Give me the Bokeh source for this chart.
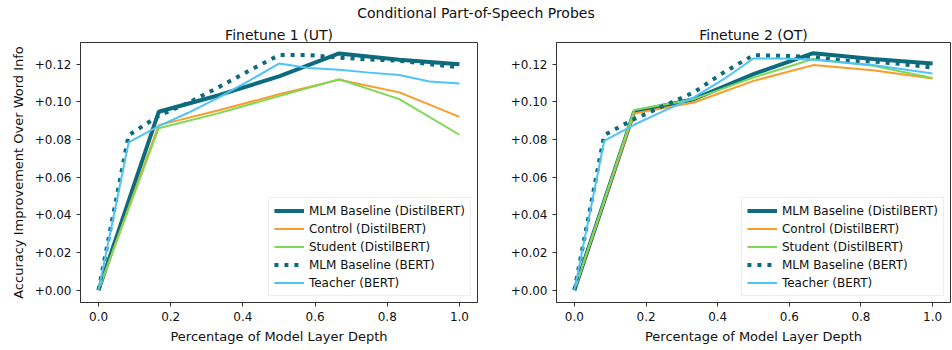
from bokeh.plotting import figure
from bokeh.layouts import row, column
from bokeh.models import Div, Range1d, FixedTicker, CustomJSTickFormatter, Legend, LegendItem
from bokeh.embed import file_html
from bokeh.resources import INLINE

# x positions (fraction of layer depth)
x_distil = [0, 1/6, 2/6, 3/6, 4/6, 5/6, 1.0]
x_bert = [i / 12 for i in range(13)]

# Finetune 1 (UT)
ut_mlm_distil = [0.0, 0.0947, 0.1035, 0.1135, 0.1257, 0.1223, 0.1200]
ut_control = [0.0, 0.0876, 0.0955, 0.1040, 0.1117, 0.1050, 0.0920]
ut_student = [0.0, 0.0860, 0.0940, 0.1030, 0.1120, 0.1014, 0.0825]
ut_mlm_bert = [0.0, 0.0823, 0.0925, 0.0996, 0.1078, 0.1165, 0.1248, 0.1248,
               0.1235, 0.1225, 0.1218, 0.1200, 0.1183]
ut_teacher = [0.0, 0.0784, 0.0871, 0.0943, 0.1023, 0.1111, 0.1203, 0.1180,
              0.1170, 0.1155, 0.1142, 0.1108, 0.1097]

# Finetune 2 (OT)
ot_mlm_distil = [0.0, 0.0947, 0.1014, 0.1147, 0.1258, 0.1227, 0.1204]
ot_control = [0.0, 0.0938, 0.0996, 0.1111, 0.1195, 0.1168, 0.1124]
ot_student = [0.0, 0.0956, 0.1014, 0.1129, 0.1227, 0.1191, 0.1126]
ot_mlm_bert = [0.0, 0.0823, 0.0908, 0.0979, 0.1050, 0.1156, 0.1248, 0.1244,
               0.1239, 0.1218, 0.1214, 0.1200, 0.1182]
ot_teacher = [0.0, 0.0793, 0.0878, 0.0952, 0.1023, 0.1120, 0.1230, 0.1230,
              0.1223, 0.1209, 0.1195, 0.1173, 0.1150]

series_names = ["MLM Baseline (DistilBERT)", "Control (DistilBERT)", "Student (DistilBERT)",
                "MLM Baseline (BERT)", "Teacher (BERT)"]
x_ticks = [0.0, 0.2, 0.4, 0.6, 0.8, 1.0]
y_ticks = [0.0, 0.02, 0.04, 0.06, 0.08, 0.10, 0.12]

FONT = "DejaVu Sans"
C_MLM = "#0e6b7e"
C_CTRL = "#fa9b2a"
C_STU = "#7ed957"
C_TEA = "#4fc3f7"


def make_panel(title, data, width, bl, br, ylabel):
    p = figure(width=width, height=326, output_backend="svg", toolbar_location=None,
               x_range=Range1d(-0.05, 1.05), y_range=Range1d(-0.0066, 0.1315),
               min_border_left=bl, min_border_right=br, min_border_top=0,
               min_border_bottom=48)
    p.title.text = title
    p.title.align = "center"
    p.title.text_font = FONT
    p.title.text_font_size = "14px"
    p.title.text_font_style = "normal"
    p.title.text_color = "#111111"
    p.title.standoff = 0
    p.title.offset = 0
    p.grid.visible = False
    p.outline_line_color = "#333333"
    p.outline_line_width = 1
    p.background_fill_color = "white"
    p.border_fill_color = "white"
    for ax in (p.xaxis[0], p.yaxis[0]):
        ax.axis_line_color = "#333333"
        ax.major_tick_in = 0
        ax.major_tick_out = 4
        ax.minor_tick_line_color = None
        ax.major_tick_line_color = "#333333"
        ax.major_label_text_font = FONT
        ax.major_label_text_font_size = "12px"
        ax.major_label_text_color = "#111111"
        ax.axis_label_text_font = FONT
        ax.axis_label_text_font_size = "13px"
        ax.axis_label_text_font_style = "normal"
        ax.axis_label_text_color = "#111111"
    p.xaxis.ticker = FixedTicker(ticks=x_ticks)
    p.yaxis.ticker = FixedTicker(ticks=y_ticks)
    p.xaxis.formatter = CustomJSTickFormatter(code="return tick.toFixed(1);")
    p.yaxis.formatter = CustomJSTickFormatter(code="return '+' + Math.abs(tick).toFixed(2);")
    p.xaxis.axis_label = "Percentage of Model Layer Depth"
    p.xaxis.axis_label_standoff = 5
    if ylabel:
        p.yaxis.axis_label = "Accuracy Improvement Over Word Info"
        p.yaxis.axis_label_standoff = 6

    mlm_d, ctrl, stu, mlm_b, tea = data
    r1 = p.line(x_distil, mlm_d, line_color=C_MLM, line_width=4)
    r2 = p.line(x_distil, ctrl, line_color=C_CTRL, line_width=2)
    r3 = p.line(x_distil, stu, line_color=C_STU, line_width=2)
    r4 = p.line(x_bert, mlm_b, line_color=C_MLM, line_width=4, line_dash="4 6")
    r5 = p.line(x_bert, tea, line_color=C_TEA, line_width=2)
    legend = Legend(items=[LegendItem(label=n, renderers=[r]) for n, r in
                           zip(series_names, [r1, r2, r3, r4, r5])],
                    location="bottom_right")
    legend.label_text_font = FONT
    legend.label_text_font_size = "12px"
    legend.label_text_color = "#111111"
    legend.glyph_width = 30
    legend.glyph_height = 15
    legend.label_height = 15
    legend.spacing = 3
    legend.padding = 5
    legend.margin = 6
    legend.border_line_color = "#dddddd"
    legend.border_line_width = 1
    legend.background_fill_alpha = 0.9
    p.add_layout(legend)
    return p


p1 = make_panel("Finetune 1 (UT)", [ut_mlm_distil, ut_control, ut_student, ut_mlm_bert, ut_teacher],
                500, 80, 23, True)
p2 = make_panel("Finetune 2 (OT)", [ot_mlm_distil, ot_control, ot_student, ot_mlm_bert, ot_teacher],
                452, 56, 2, False)

title = Div(text="Conditional Part-of-Speech Probes", width=952, height=24, margin=0,
            styles={"font-family": FONT, "font-size": "14px", "text-align": "center",
                    "color": "#111111", "width": "952px", "line-height": "27px"})

layout = column(title, row(p1, p2, spacing=0), spacing=0)
open("out.html", "w").write(file_html(layout, INLINE))
